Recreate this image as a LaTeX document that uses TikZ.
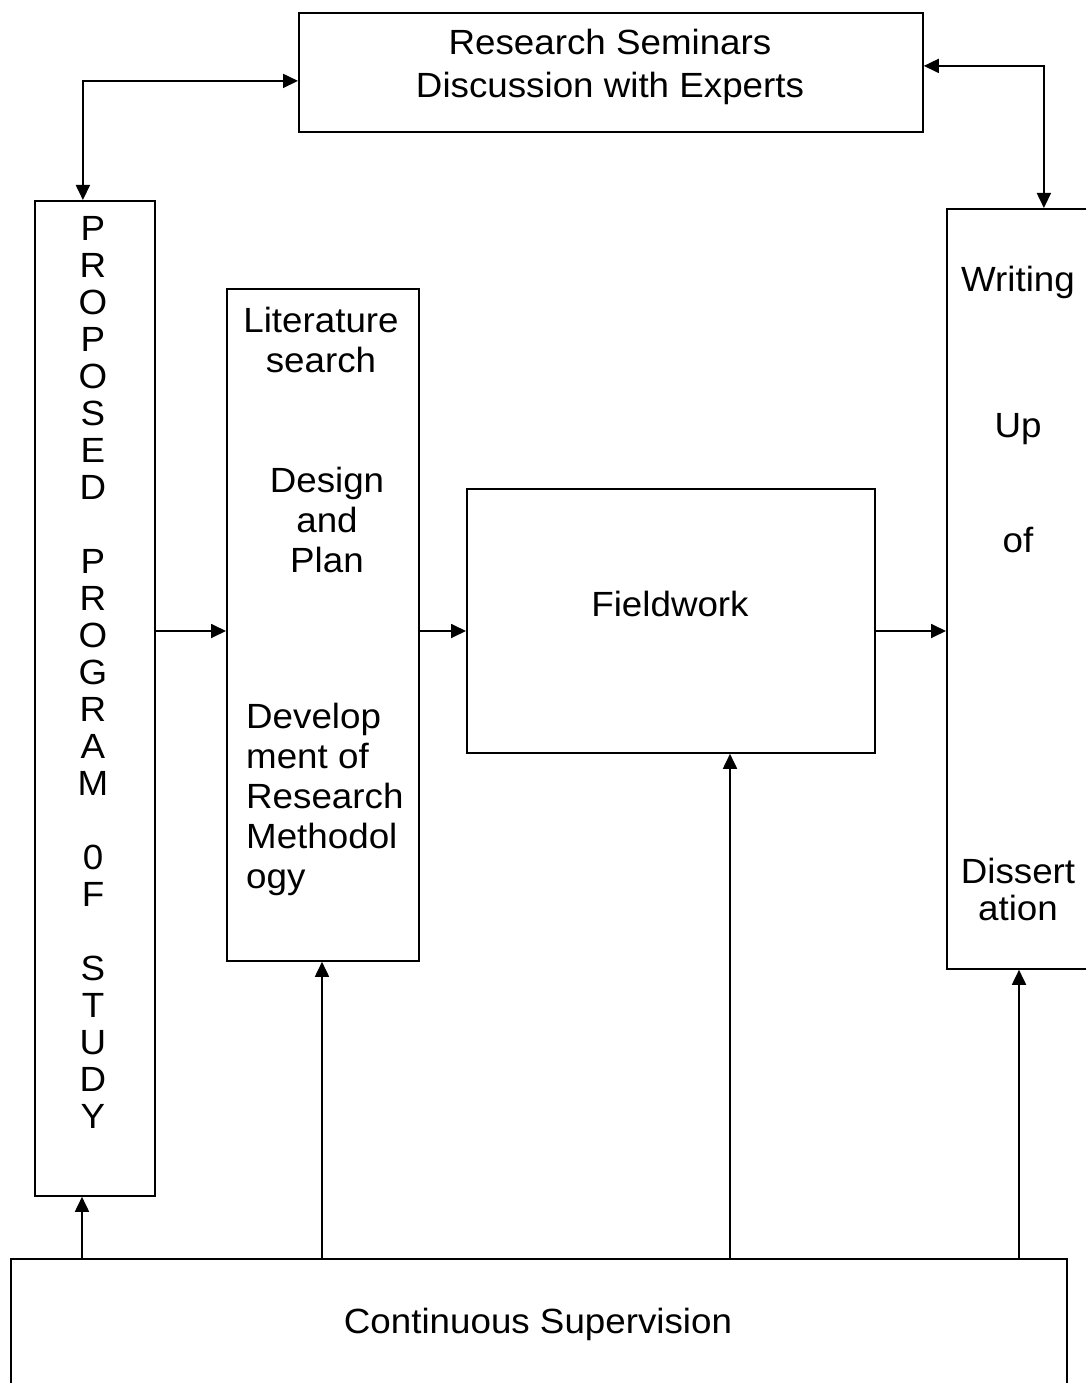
\documentclass[tikz,border=0pt]{standalone}
\usepackage{fontspec}
\setmainfont[FakeStretch=1.05]{Liberation Sans}
\usetikzlibrary{arrows.meta}
\begin{document}
\begin{tikzpicture}[x=1pt,y=-1pt,
  box/.style={draw, line width=1.8pt, rectangle, inner sep=0pt, anchor=north west},
  txt/.style={font=\fontsize{35}{40}\selectfont, align=center, inner sep=0pt},
  arr/.style={line width=1.8pt, -{Triangle[length=15pt,width=14pt]}},
  darr/.style={line width=1.8pt, {Triangle[length=15pt,width=14pt]}-{Triangle[length=15pt,width=14pt]}}]
\useasboundingbox (0,0) rectangle (1086,1383);
\clip (0,0) rectangle (1086,1383);

% boxes
\node[box, minimum width=624pt, minimum height=119pt] (top) at (298,12) {};
\node[box, minimum width=120pt, minimum height=995pt] (prop) at (34,200) {};
\node[box, minimum width=192pt, minimum height=672pt] (lit) at (226,288) {};
\node[box, minimum width=408pt, minimum height=264pt] (field) at (466,488) {};
\node[box, minimum width=160pt, minimum height=760pt] (write) at (946,208) {};
\node[box, minimum width=1056pt, minimum height=160pt] (bot) at (10,1258) {};

% texts
\node[txt, font=\fontsize{35}{43}\selectfont] (ttop) at (610,67) {Research Seminars\\Discussion with Experts};
\node[txt, font=\fontsize{35}{37}\selectfont] (tprop) at (93,672)
  {P\\R\\O\\P\\O\\S\\E\\D\\[37pt]P\\R\\O\\G\\R\\A\\M\\[37pt]0\\F\\[37pt]S\\T\\U\\D\\Y};
\node[txt] (tlit1) at (321,340) {Literature\\search};
\node[txt] (tlit2) at (327,520) {Design\\and\\Plan};
\node[txt, align=left, anchor=west] (tlit3) at (246,799) {Develop\\ment of\\Research\\Methodol\\ogy};
\node[txt] (tfield) at (670,604) {Fieldwork};
\node[txt] (tw1) at (1018,282) {Writing};
\node[txt] (tw2) at (1018,429) {Up};
\node[txt] (tw3) at (1018,540) {of};
\node[txt, font=\fontsize{35}{37}\selectfont] (tw4) at (1018,889) {Dissert\\ation};
\node[txt] (tbot) at (538,1324) {Continuous Supervision};

% helper coordinates
\coordinate (mid) at (0,631);
\coordinate (c1) at (82,0);
\coordinate (c2) at (322,0);
\coordinate (c3) at (730,0);
\coordinate (c4) at (1019,0);

% connectors
\draw[darr] ([yshift=-8.5pt]top.west) -| ([xshift=-12pt]prop.north);
\draw[darr] ([yshift=6.5pt]top.east) -| ([xshift=17pt]write.north);
\draw[arr] (prop.east |- mid) -- (lit.west |- mid);
\draw[arr] (lit.east |- mid) -- (field.west |- mid);
\draw[arr] (field.east |- mid) -- (write.west |- mid);
\draw[arr] (bot.north -| c1) -- (prop.south -| c1);
\draw[arr] (bot.north -| c2) -- (lit.south -| c2);
\draw[arr] (bot.north -| c3) -- (field.south -| c3);
\draw[arr] (bot.north -| c4) -- (write.south -| c4);
\end{tikzpicture}
\end{document}
